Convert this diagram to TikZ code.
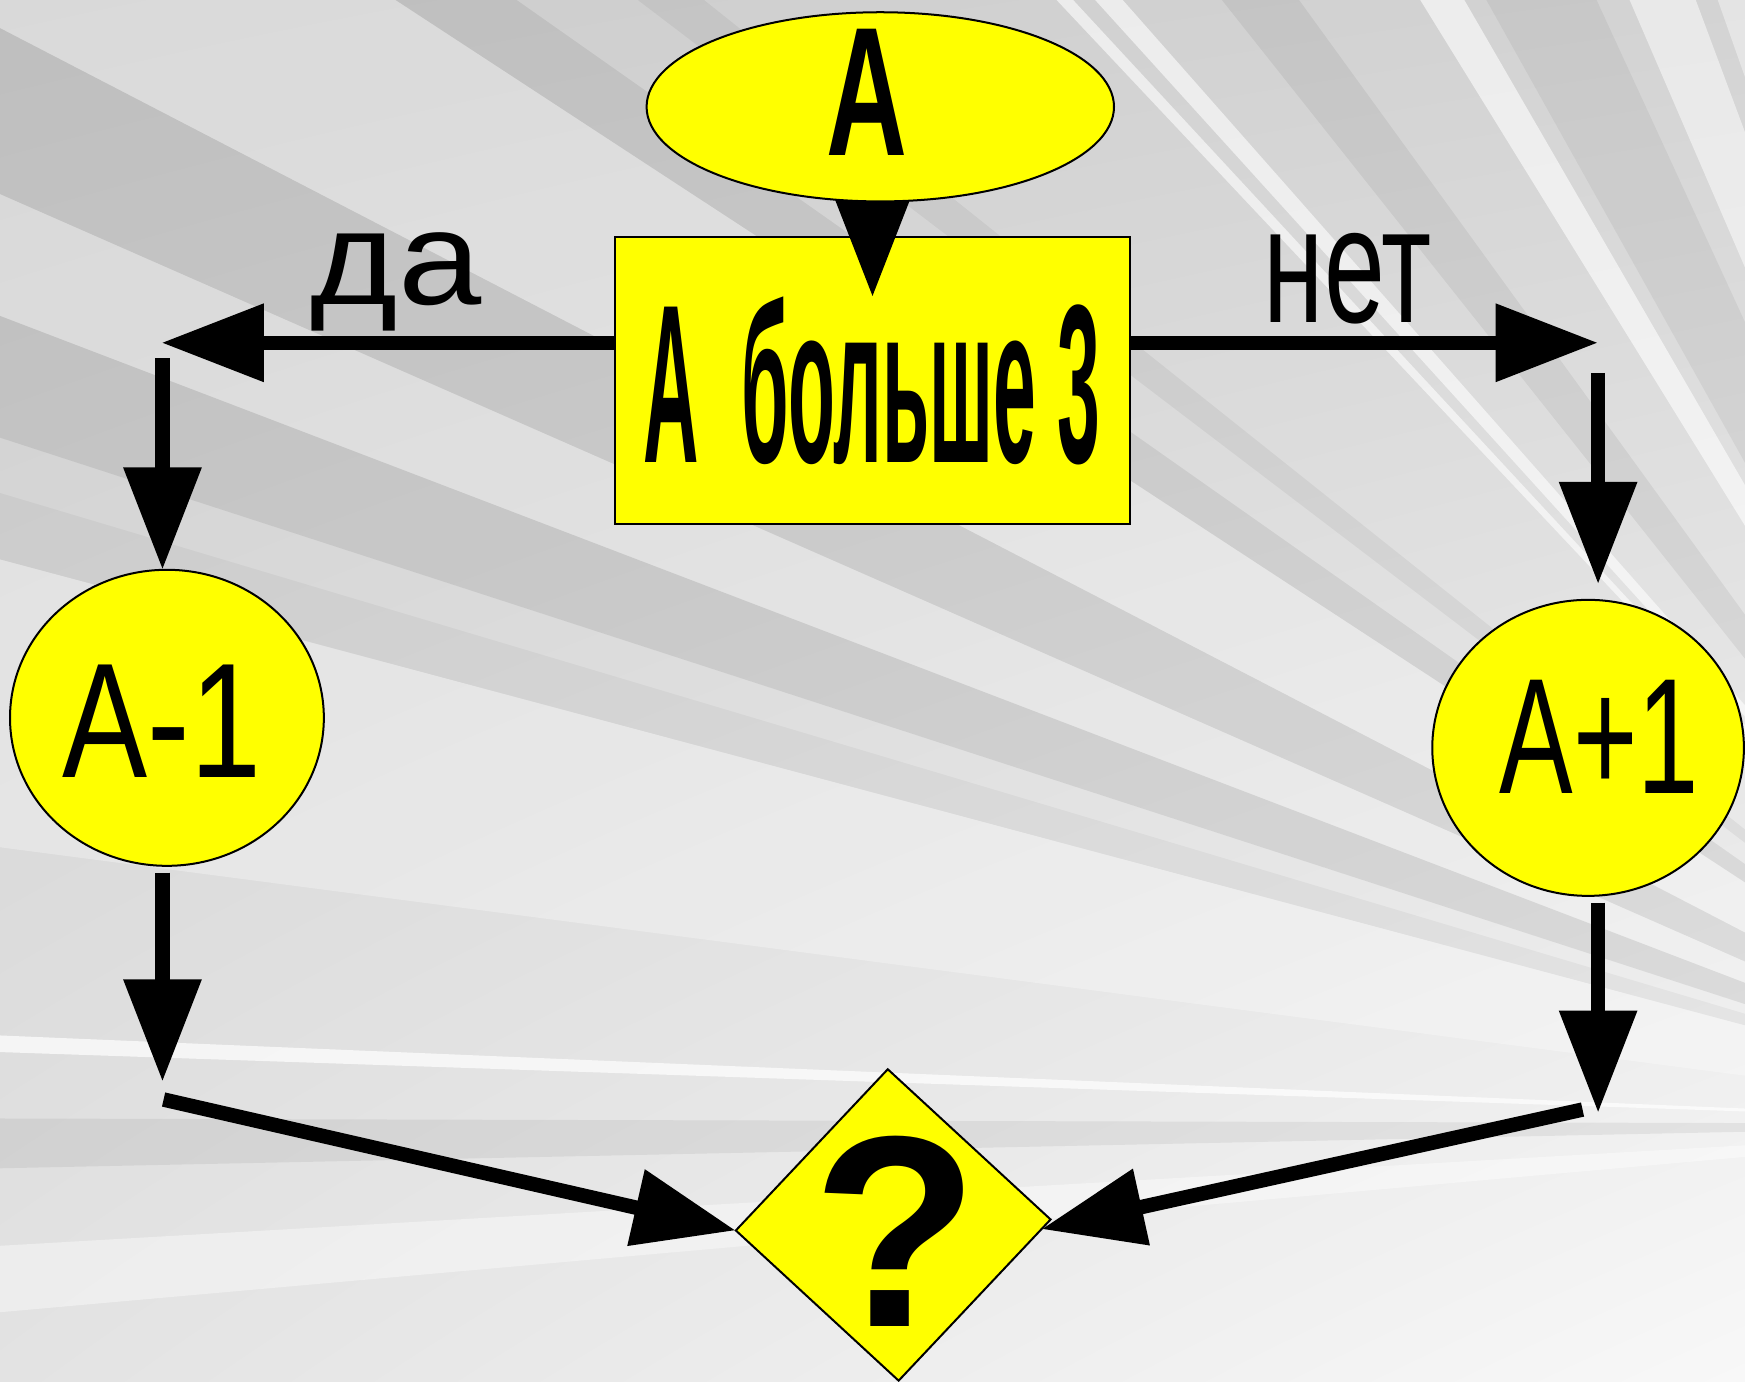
\documentclass[tikz,border=0pt]{standalone}
\usepackage{fontspec}
\setmainfont{Liberation Sans}
\usetikzlibrary{arrows.meta,shapes.geometric,calc,shadings}
\pgfdeclarelayer{bg}
\pgfdeclarelayer{top}
\pgfsetlayers{bg,main,top}
\definecolor{bgUL}{HTML}{CDCDCD}
\definecolor{bgUR}{HTML}{D3D3D3}
\definecolor{bgLL}{HTML}{E3E3E3}
\definecolor{bgLR}{HTML}{F8F8F8}
\definecolor{boxyellow}{HTML}{FFFF00}
\newcommand\myray[4]{\fill[#1, opacity=#2] (vp) -- #3 -- #4 -- cycle;}
\tikzset{
  shapebox/.style={draw=black, line width=1.8pt, fill=boxyellow, inner sep=0pt, outer sep=0pt},
  arr/.style={line width=13pt, -{Triangle[length=92pt,width=67pt]}},
  bigtxt/.style={inner sep=0pt, outer sep=0pt, anchor=base, text=black},
}
\begin{document}
\begin{tikzpicture}[x=1pt,y=-1pt]
\useasboundingbox (0,0) rectangle (1568,1241);
\begin{pgfonlayer}{bg}
  \shade[upper left=bgUL, upper right=bgUR, lower left=bgLL, lower right=bgLR] (0,0) rectangle (1568,1241);
  \coordinate (vp) at (1900,1010);
  % dark rays
  \myray{black}{0.07}{(-10,20)}{(-10,170)}
  \myray{black}{0.08}{(-10,280)}{(-10,390)}
  \myray{black}{0.04}{(-10,440)}{(-10,500)}
  \myray{black}{0.06}{(-10,1005)}{(-10,1050)}
  \myray{black}{0.07}{(340,-10)}{(450,-10)}
  \myray{black}{0.05}{(560,-10)}{(620,-10)}
  \myray{black}{0.06}{(1090,-10)}{(1160,-10)}
  \myray{black}{0.05}{(1330,-10)}{(1430,-10)}
  % light rays
  \fill[white, opacity=0.25] (vp) -- (-10,20) -- (-10,-10) -- (340,-10) -- cycle;
  \myray{white}{0.2}{(-10,170)}{(-10,280)}
  \myray{white}{0.3}{(-10,500)}{(-10,760)}
  \myray{white}{0.7}{(-10,930)}{(-10,945)}
  \myray{white}{0.4}{(-10,1120)}{(-10,1180)}
  \myray{white}{0.6}{(940,-10)}{(955,-10)}
  \myray{white}{0.6}{(975,-10)}{(1000,-10)}
  \myray{white}{0.6}{(1270,-10)}{(1310,-10)}
  \myray{white}{0.5}{(1460,-10)}{(1520,-10)}
  \myray{white}{0.4}{(1540,-10)}{(1580,-10)}
\end{pgfonlayer}

% top ellipse (drawn above the incoming arrow)
\begin{pgfonlayer}{top}
  \node[shapebox, ellipse, minimum width=420pt, minimum height=170pt] (A) at (791,96) {};
  \node[bigtxt, font=\fontsize{165}{165}\selectfont\bfseries, xscale=0.61] (At) at (779,140) {A};
\end{pgfonlayer}

% condition box
\node[shapebox, minimum width=462pt, minimum height=258pt] (C) at (784,342) {};
\node[bigtxt, font=\fontsize{203}{203}\selectfont\bfseries, xscale=0.34] (Ct) at (783.5,415.5) {A\ \ больше 3};

% branch nodes
\node[shapebox, ellipse, minimum width=282pt, minimum height=266pt] (L) at (150,645) {};
\node[bigtxt, font=\fontsize{147}{147}\selectfont, xscale=0.78] (Lt) at (145.5,699) {A-1};
\node[shapebox, ellipse, minimum width=280pt, minimum height=266pt] (R) at (1427,672) {};
\node[bigtxt, font=\fontsize{148}{148}\selectfont, xscale=0.67] (Rt) at (1437,713) {A+1};

% result diamond
\node[shapebox, diamond, aspect=1, minimum width=283pt, minimum height=280pt, rotate=2] (Q) at (802.6,1100.7) {};
\node[bigtxt, font=\fontsize{245}{245}\selectfont\bfseries] (Qt) at (805,1192) {?};

% branch labels
\node[bigtxt, font=\fontsize{120}{120}\selectfont, xscale=1.12] (da) at (356,274) {да};
\node[bigtxt, font=\fontsize{149}{149}\selectfont, xscale=0.66] (net) at (1211,290) {нет};

% connectors
\coordinate (cin) at (784,267);
\draw[arr] (cin |- A.center) -- (cin);
\coordinate (lt) at (145,308);
\draw[arr] (C.west |- lt) -- (lt);
\coordinate (rt) at (1436,308);
\draw[arr] (C.east |- rt) -- (rt);
\coordinate (l1s) at (146,322);
\draw[arr] (l1s) -- (l1s |- L.north);
\coordinate (l2e) at (146,972);
\draw[arr, shorten <=6pt] (l2e |- L.south) -- (l2e);
\coordinate (r1s) at (1436,335);
\draw[arr, shorten >=14pt] (r1s) -- (r1s |- R.north);
\coordinate (r2e) at (1436,1000);
\draw[arr, shorten <=6pt] (r2e |- R.south) -- (r2e);
\coordinate (dl) at (147,988);
\draw[arr] (dl) -- (Q.west);
\coordinate (dr) at (1422,997);
\draw[arr] (dr) -- ($(Q.east)!0.06!(Q.south)$);
\end{tikzpicture}
\end{document}
